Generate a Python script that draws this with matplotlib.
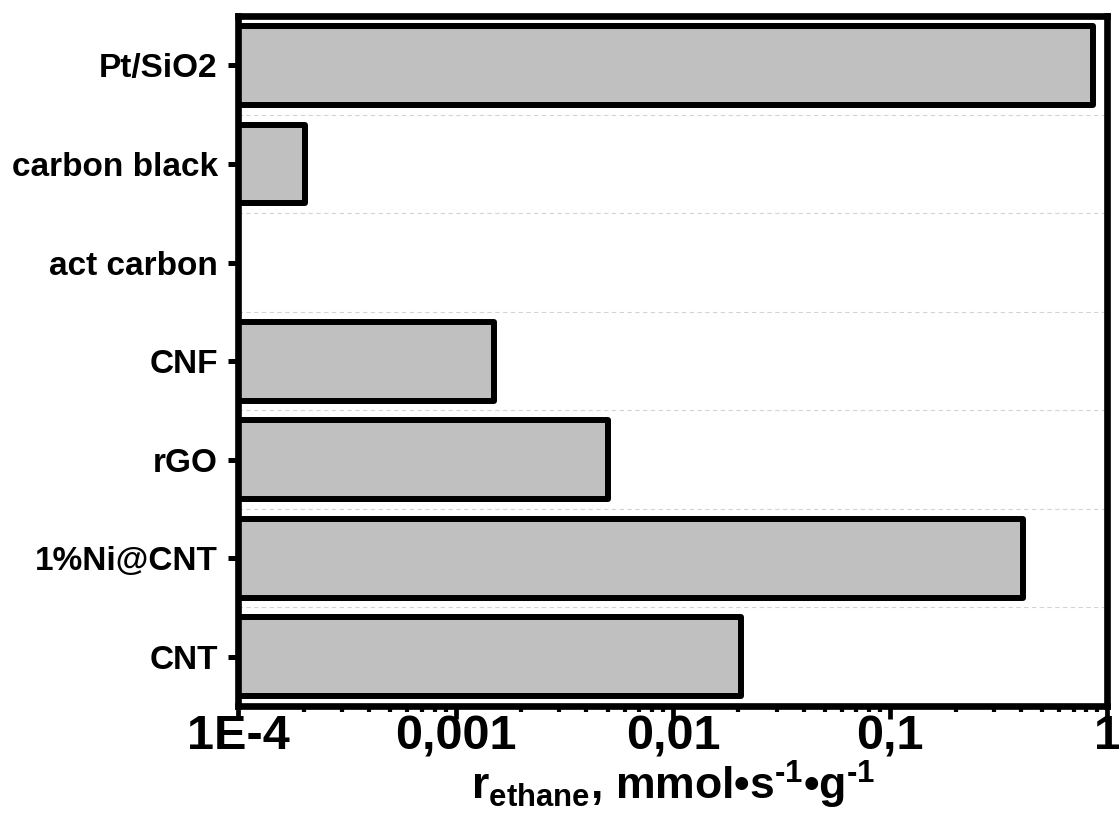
import numpy as np
import matplotlib
matplotlib.use("Agg")
import matplotlib.pyplot as plt
from matplotlib.ticker import FixedLocator, LogLocator, NullFormatter

plt.rcParams['font.family'] = ['Liberation Sans', 'DejaVu Sans']
plt.rcParams['font.weight'] = 'bold'
plt.rcParams['mathtext.fontset'] = 'custom'
plt.rcParams['mathtext.rm'] = 'Liberation Sans:bold'
plt.rcParams['mathtext.it'] = 'Liberation Sans:bold'
plt.rcParams['mathtext.bf'] = 'Liberation Sans:bold'

# catalysts, bottom to top
catalysts = ["CNT", "1%Ni@CNT", "rGO", "CNF", "act carbon", "carbon black", "Pt/SiO2"]
# ethane formation rate, mmol/(s*g); act carbon gave no measurable rate
rate = [0.0205, 0.41, 0.0050, 0.0015, np.nan, 0.000203, 0.86]

xticks = [1e-4, 1e-3, 1e-2, 1e-1, 1]
xticklabels = ["1E-4", "0,001", "0,01", "0,1", "1"]
xmin, xmax = 1e-4, 1

fig = plt.figure(figsize=(11.19, 8.21), dpi=100)
ax = fig.add_axes([0.2131, 0.140, 0.7765, 0.8404])

y = np.arange(len(catalysts))
widths = np.array(rate) - xmin
bars = ax.barh(y, widths, left=xmin, height=0.8, color='#c0c0c0',
               edgecolor='black', linewidth=4.3, zorder=3)
for b in bars:
    b.set_joinstyle('round')

# light dashed separators between categories
for k in range(len(catalysts) - 1):
    ax.axhline(k + 0.5, color='#d4d4d4', linestyle=(0, (4, 3)), linewidth=0.8, zorder=1)

ax.set_xscale('log')
ax.set_xlim(xmin, xmax)
ax.set_ylim(-0.5, len(catalysts) - 0.5)

ax.xaxis.set_major_locator(FixedLocator(xticks))
ax.set_xticklabels(xticklabels)
ax.xaxis.set_minor_locator(LogLocator(base=10, subs=np.arange(2, 10)))
ax.xaxis.set_minor_formatter(NullFormatter())

ax.set_yticks(y)
ax.set_yticklabels(catalysts)

for s in ax.spines.values():
    s.set_linewidth(4.8)
    s.set_zorder(4)

ax.tick_params(axis='y', which='major', direction='out', length=7, width=3.6,
               labelsize=24, pad=8)
ax.tick_params(axis='x', which='major', direction='out', length=9, width=3.4,
               labelsize=35, pad=-3)
ax.tick_params(axis='x', which='minor', direction='out', length=4, width=3.0)

for lab in ax.get_xticklabels() + ax.get_yticklabels():
    lab.set_fontweight('bold')

ax.set_xlabel('$\\mathregular{r_{ethane}}$, mmol•s$^{\\mathregular{\u20101}}$•g$^{\\mathregular{\u20101}}$',
              fontsize=32, fontweight='bold', labelpad=0)

fig.savefig('out.png', dpi=100)
